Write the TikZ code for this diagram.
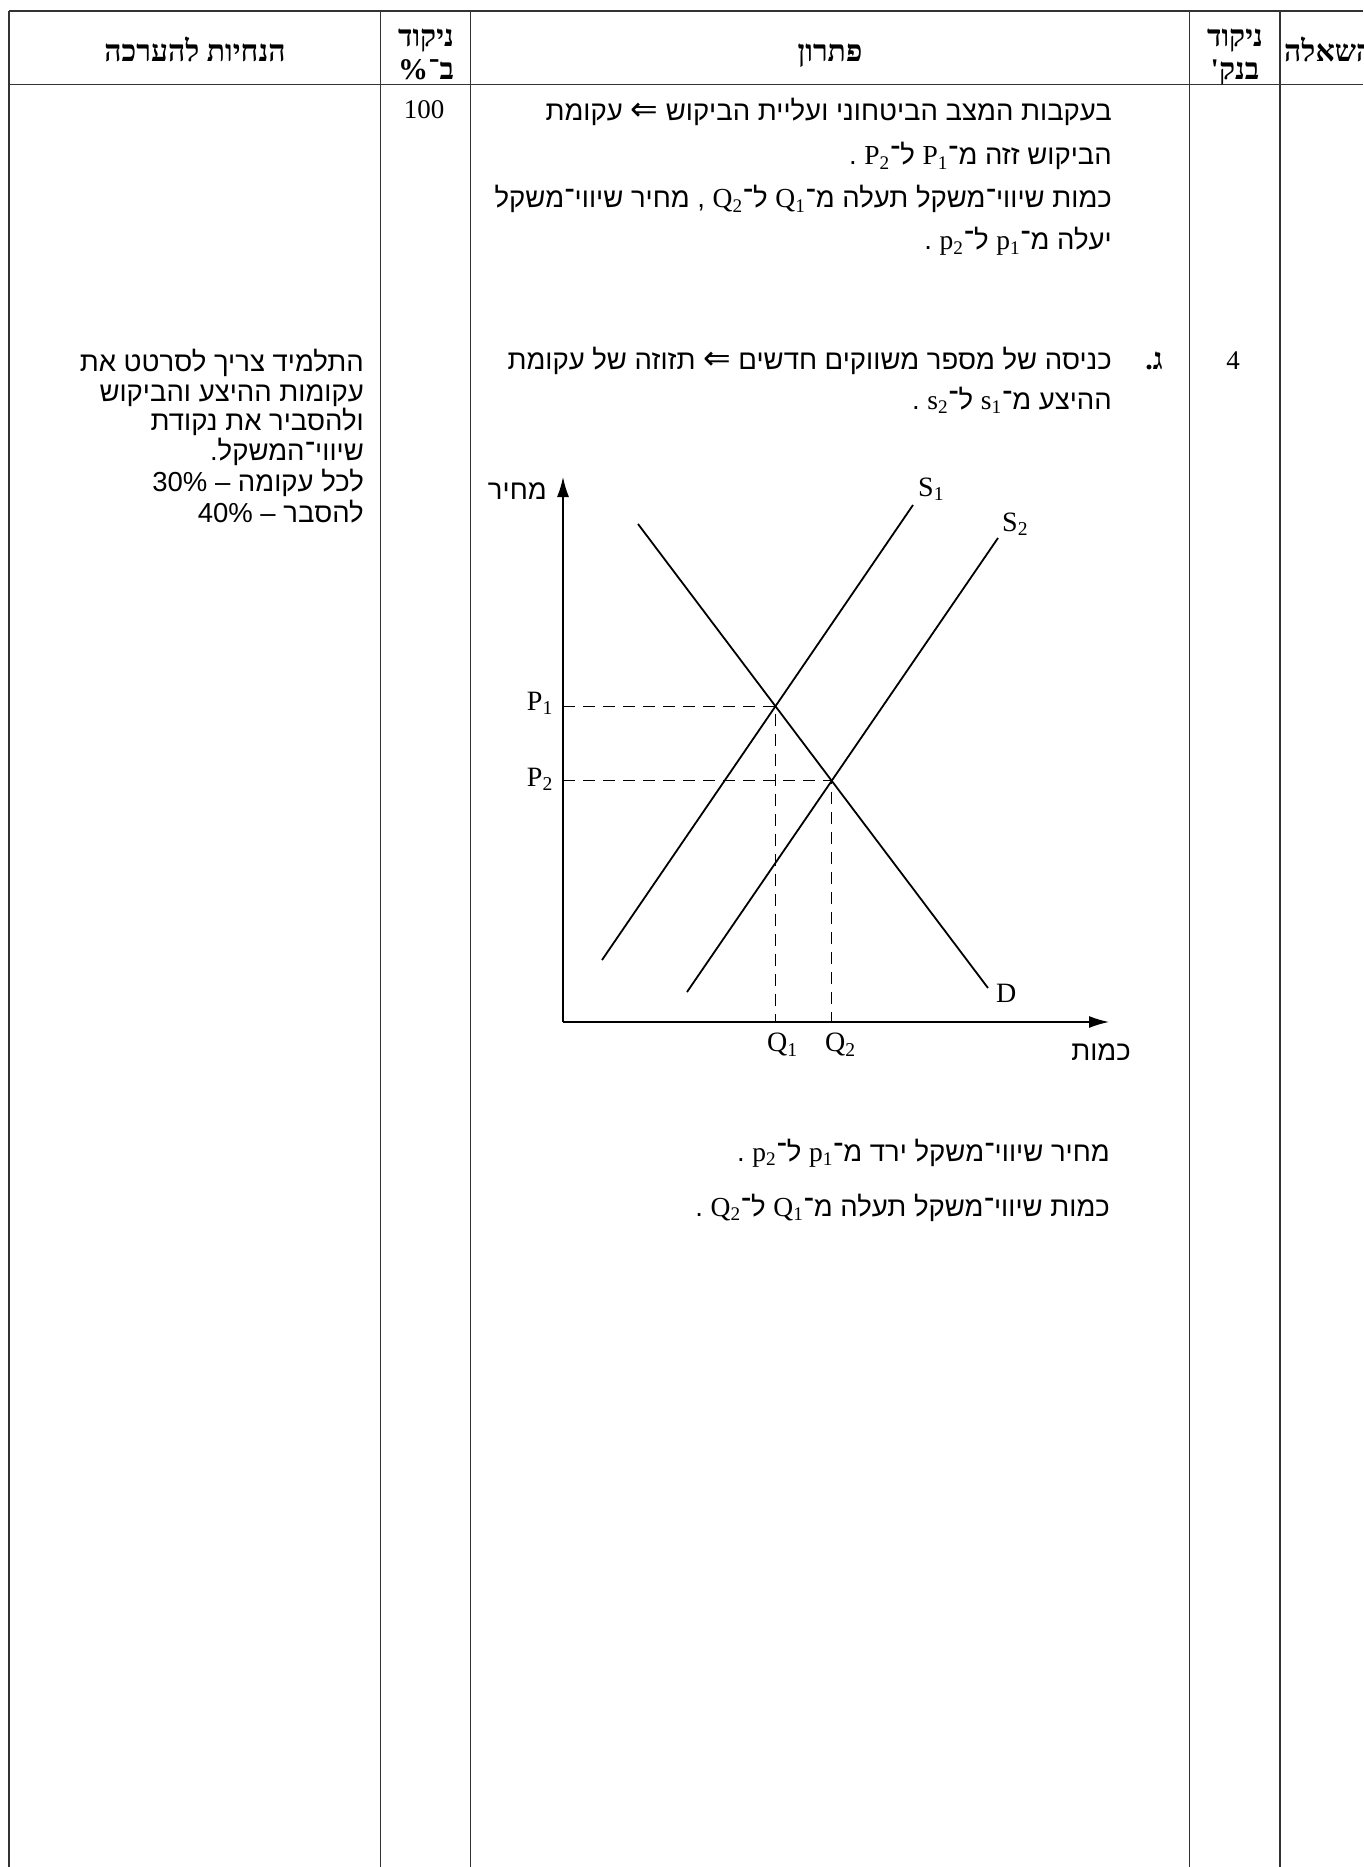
\documentclass[tikz,border=0pt]{standalone}
\usepackage{fontspec}
\setmainfont{Liberation Sans}
\newfontfamily\hebsans[Script=Hebrew]{Liberation Sans}
\newfontfamily\hebserif[Script=Hebrew]{Liberation Serif}
\newfontfamily\latserif{Liberation Serif}
\newfontfamily\arrowfont{DejaVu Sans}
\usepackage{tikz}
\usetikzlibrary{arrows.meta, positioning, calc, intersections}
\TeXXeTstate=1
\colorlet{ruleGray}{black!80}
\newcommand{\sym}[2]{\mbox{\latserif\beginL #1\textsubscript{#2}\endL}}
\newcommand{\impl}{\mbox{\arrowfont\fontsize{33}{33}\selectfont ⇐}}

\begin{document}
\begin{tikzpicture}[x=1pt, y=-1pt,
    thinrule/.style={draw=ruleGray, line width=1pt},
    thickrule/.style={draw=ruleGray, line width=2pt},
    curve/.style={line width=1.8pt},
    axis/.style={line width=1.4pt, -{Latex[length=20pt, width=12pt]}},
    guide/.style={line width=1.3pt, dash pattern=on 12pt off 8pt},
    heb/.style={font=\hebsans\fontsize{27.5}{32}\selectfont, inner sep=0pt, anchor=base east},
    head/.style={font=\hebserif\bfseries\fontsize{30}{34}\selectfont, inner sep=0pt, anchor=base},
    lbl/.style={font=\latserif\fontsize{28}{32}\selectfont, inner sep=0pt}]

  \useasboundingbox (0,0) rectangle (1363,1867);

  % Table frame
  \draw[thickrule] (9,11) -- (1363,11);
  \draw[thinrule] (9,85) -- (1363,85);
  \draw[thickrule] (9,11) -- (9,1867);
  \foreach \cx in {380,470,1189}
    \draw[thinrule] (\cx,11) -- (\cx,1867);
  \draw[thickrule] (1280,11) -- (1280,1867);

  % Header row
  \node[head] (hGuide) at (195,62) {\beginR הנחיות להערכה\endR};
  \node[head] (hPct1) at (426,47) {\beginR ניקוד\endR};
  \node[head] (hPct2) at (426,80) {\beginR ב־\mbox{\%}\endR};
  \node[head] (hSol) at (830,62) {\beginR פתרון\endR};
  \node[head] (hBank1) at (1235,47) {\beginR ניקוד\endR};
  \node[head] (hBank2) at (1235,80) {\beginR בנק'\endR};
  \node[head, anchor=base west] (hQ) at (1284,62) {\beginR השאלה\endR};

  % Points
  \node[lbl, font=\latserif\fontsize{27}{30}\selectfont, anchor=base] (pts100) at (424,119) {100};
  \node[lbl, font=\latserif\fontsize{27}{30}\selectfont, anchor=base] (pts4) at (1233,369) {4};

  % Solution text
  \node[heb] (s1) at (1112,121) {\beginR בעקבות המצב הביטחוני ועליית הביקוש \impl{} עקומת\endR};
  \node[heb] (s2) at (1112,165) {\beginR הביקוש זזה מ־\sym{P}{1} ל־\sym{P}{2} .\endR};
  \node[heb] (s3) at (1112,208) {\beginR כמות שיווי־משקל תעלה מ־\sym{Q}{1} ל־\sym{Q}{2} , מחיר שיווי־משקל\endR};
  \node[heb] (s4) at (1112,250) {\beginR יעלה מ־\sym{p}{1} ל־\sym{p}{2} .\endR};
  \node[head, anchor=base east] (partG) at (1163,369) {ג.};
  \node[heb] (s5) at (1112,369) {\beginR כניסה של מספר משווקים חדשים \impl{} תזוזה של עקומת\endR};
  \node[heb] (s6) at (1112,409) {\beginR ההיצע מ־\sym{s}{1} ל־\sym{s}{2} .\endR};
  \node[heb] (s7) at (1110,1161) {\beginR מחיר שיווי־משקל ירד מ־\sym{p}{1} ל־\sym{p}{2} .\endR};
  \node[heb] (s8) at (1110,1216) {\beginR כמות שיווי־משקל תעלה מ־\sym{Q}{1} ל־\sym{Q}{2} .\endR};

  % Grading guide
  \node[heb] (g1) at (364,371) {\beginR התלמיד צריך לסרטט את\endR};
  \node[heb] (g2) at (364,401) {\beginR עקומות ההיצע והביקוש\endR};
  \node[heb] (g3) at (364,430) {\beginR ולהסביר את נקודת\endR};
  \node[heb] (g4) at (364,460) {\beginR שיווי־המשקל.\endR};
  \node[heb] (g5) at (364,491) {\beginR לכל עקומה – \mbox{30\%}\endR};
  \node[heb] (g6) at (364,522) {\beginR להסבר – \mbox{40\%}\endR};

  % Axes
  \coordinate (O) at (563,1022);
  \coordinate (yTip) at (563,477);
  \coordinate (xTip) at (1109,1022);
  \draw[axis] (O) -- (yTip);
  \draw[axis] (O) -- (xTip);
  \node[heb, anchor=east] (priceLbl) at (547,491) {\beginR מחיר\endR};
  \node[heb, anchor=east] (qtyLbl) at (1131,1052) {\beginR כמות\endR};

  % Demand and supply lines
  \coordinate (d0) at (638,524);
  \coordinate (d1) at (988,988);
  \coordinate (sA0) at (602,960);
  \coordinate (sA1) at (913,505);
  \coordinate (sB0) at (687,992);
  \coordinate (sB1) at (998,538);
  \draw[curve, name path=dem] (d0) -- (d1);
  \draw[curve, name path=supA] (sA0) -- (sA1);
  \draw[curve, name path=supB] (sB0) -- (sB1);
  \path[name intersections={of=dem and supA, by=E1}];
  \path[name intersections={of=dem and supB, by=E2}];

  % Equilibrium guides
  \draw[guide] (E1 -| O) -- (E1) -- (E1 |- O);
  \draw[guide] (E2 -| O) -- (E2) -- (E2 |- O);

  % Labels
  \node[lbl, anchor=base east] (P1) at (553,710) {P\textsubscript{1}};
  \node[lbl, anchor=base east] (P2) at (553,786) {P\textsubscript{2}};
  \node[lbl, anchor=north west] (Q1) at (767,1033) {Q\textsubscript{1}};
  \node[lbl, anchor=north west] (Q2) at (825,1033) {Q\textsubscript{2}};
  \node[lbl, anchor=base west] (S1) at (918,496) {S\textsubscript{1}};
  \node[lbl, anchor=base west] (S2) at (1002,531) {S\textsubscript{2}};
  \node[lbl, anchor=base west] (Dl) at (996,1002) {D};
\end{tikzpicture}
\end{document}
